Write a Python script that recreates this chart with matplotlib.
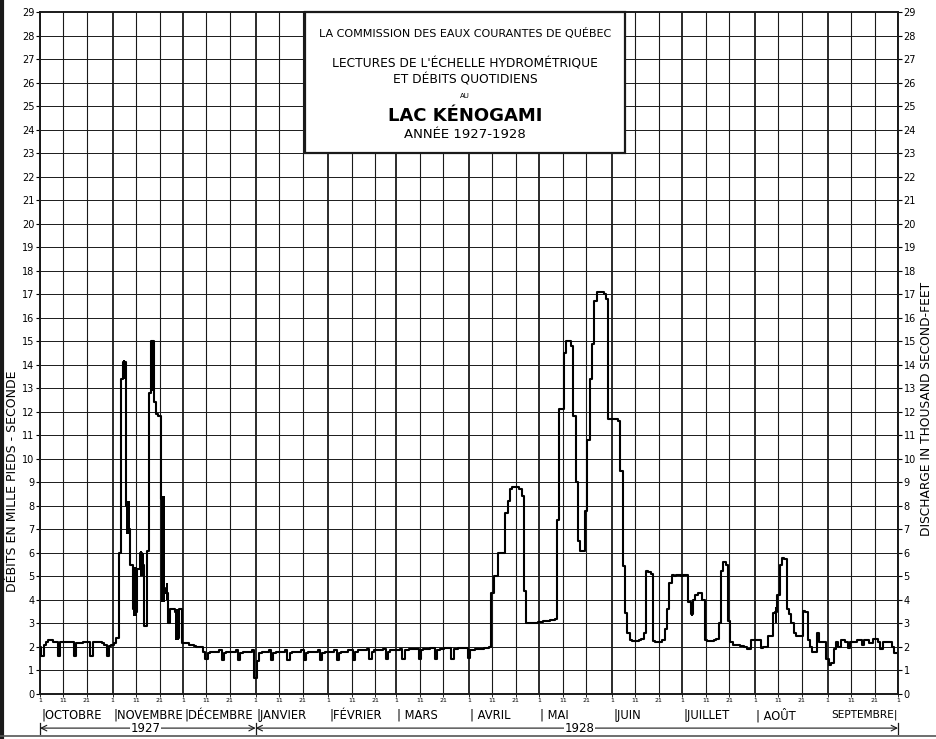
import numpy as np
import pandas as pd
import matplotlib
matplotlib.use('Agg')
import matplotlib.pyplot as plt
import matplotlib.transforms as mtransforms
from matplotlib.patches import Rectangle
from matplotlib.lines import Line2D

plt.rcParams['font.family'] = ['DejaVu Sans']

# daily discharge at Lac Kénogami, thousand second-feet, Oct 1927 - Sep 1928
oct_q = [2.0, 1.6, 2.1, 2.2, 2.3, 2.3, 2.2, 2.2, 1.6, 2.2, 2.2, 2.2, 2.2, 2.2, 2.2, 1.6,
         2.15, 2.15, 2.15, 2.2, 2.2, 2.2, 1.6, 2.2, 2.2, 2.2, 2.2, 2.15, 2.1, 1.6, 2.05]
nov_q = [2.1, 2.15, 2.4, 6.0, 13.4, 14.1, 8.0, 7.0, 5.5, 3.6, 3.5, 5.3, 6.0, 5.5, 2.9,
         6.1, 12.8, 15.0, 12.4, 11.9, 11.8, 8.3, 4.5, 4.3, 3.0, 3.6, 3.6, 3.5, 2.4, 3.6]
dec_q = [2.15, 2.15, 2.15, 2.1, 2.1, 2.05, 2.0, 2.0, 2.0, 1.8, 1.5, 1.75, 1.8, 1.8, 1.8, 1.8,
         1.85, 1.45, 1.75, 1.8, 1.8, 1.8, 1.8, 1.85, 1.45, 1.75, 1.8, 1.8, 1.8, 1.8, 1.85]
jan_q = [0.7, 1.4, 1.75, 1.8, 1.8, 1.8, 1.85, 1.45, 1.75, 1.8, 1.8, 1.8, 1.8, 1.85, 1.45, 1.75,
         1.8, 1.8, 1.8, 1.8, 1.85, 1.45, 1.75, 1.8, 1.8, 1.8, 1.8, 1.85, 1.45, 1.75, 1.8]
feb_q = [1.8, 1.8, 1.8, 1.85, 1.45, 1.75, 1.8, 1.8, 1.8, 1.85, 1.85, 1.45, 1.8, 1.85, 1.85,
         1.85, 1.85, 1.9, 1.5, 1.8, 1.85, 1.85, 1.85, 1.85, 1.9, 1.5, 1.8, 1.85, 1.85]
mar_q = [1.85, 1.85, 1.9, 1.5, 1.85, 1.85, 1.9, 1.9, 1.9, 1.9, 1.5, 1.85, 1.9, 1.9, 1.9, 1.95,
         1.95, 1.5, 1.85, 1.9, 1.9, 1.95, 1.95, 1.95, 1.5, 1.9, 1.9, 1.95, 1.95, 1.95, 1.95]
apr_q = [1.55, 1.85, 1.85, 1.9, 1.9, 1.9, 1.9, 1.95, 1.95, 2.0, 4.3, 5.0, 5.0, 6.0, 6.0,
         6.0, 7.7, 8.2, 8.7, 8.8, 8.8, 8.8, 8.7, 8.4, 4.4, 3.0, 3.0, 3.0, 3.0, 3.0]
may_q = [3.05, 3.05, 3.1, 3.1, 3.1, 3.15, 3.15, 3.2, 7.4, 12.1, 12.1, 14.5, 15.0, 15.0, 14.8,
         11.8, 9.0, 6.5, 6.1, 6.1, 7.8, 10.8, 13.4, 14.9, 16.7, 17.1, 17.1, 17.1, 17.0, 16.8, 11.7]
jun_q = [11.7, 11.7, 11.7, 11.6, 9.5, 5.45, 3.45, 2.6, 2.3, 2.25, 2.25, 2.25, 2.3, 2.35, 2.6,
         5.25, 5.2, 5.1, 2.25, 2.2, 2.2, 2.2, 2.3, 2.75, 3.6, 4.7, 5.05, 5.0, 5.05, 5.05]
jul_q = [5.0, 5.05, 5.05, 3.9, 3.4, 4.0, 4.2, 4.3, 4.3, 4.0, 2.3, 2.25, 2.25, 2.25, 2.3, 2.35,
         3.0, 5.25, 5.6, 5.5, 3.1, 2.2, 2.1, 2.1, 2.1, 2.05, 2.05, 2.0, 1.9, 1.9, 2.3]
aug_q = [2.3, 2.3, 2.3, 1.95, 2.0, 2.0, 2.45, 2.45, 3.45, 3.5, 4.2, 5.5, 5.8, 5.75, 3.6, 3.4,
         3.0, 2.6, 2.45, 2.45, 2.45, 3.55, 3.5, 2.3, 2.0, 1.8, 1.8, 2.6, 2.2, 2.2, 2.2]
sep_q = [1.5, 1.25, 1.3, 1.9, 2.2, 2.0, 2.3, 2.3, 2.2, 1.95, 2.2, 2.2, 2.2, 2.3, 2.3,
         2.1, 2.3, 2.3, 2.15, 2.15, 2.35, 2.35, 2.2, 1.9, 2.2, 2.2, 2.2, 2.2, 2.0, 1.75]

# days with rapid fluctuation (drawn as dark bars)
hatch_dates = ['1927-11-06', '1927-11-07', '1927-11-08', '1927-11-10', '1927-11-11',
               '1927-11-13', '1927-11-14', '1927-11-18', '1927-11-22', '1927-11-23',
               '1927-11-24', '1927-11-28', '1927-11-29', '1928-07-05', '1928-08-10']
hatch_lo = [13.4, 6.8, 6.8, 3.3, 3.3, 5.0, 5.0, 12.9, 3.9, 3.9, 4.0, 2.3, 2.3, 3.3, 3.0]
hatch_hi = [14.2, 8.2, 8.2, 5.4, 5.4, 6.1, 6.0, 15.0, 8.4, 8.4, 4.7, 3.6, 3.6, 3.9, 3.7]

months = ['OCTOBRE', 'NOVEMBRE', 'DÉCEMBRE', 'JANVIER', 'FÉVRIER', 'MARS',
          'AVRIL', 'MAI', 'JUIN', 'JUILLET', 'AOÛT', 'SEPTEMBRE']
day_marks = [1, 11, 21]

q = np.array(oct_q + nov_q + dec_q + jan_q + feb_q + mar_q +
             apr_q + may_q + jun_q + jul_q + aug_q + sep_q)
dates = pd.date_range('1927-10-01', '1928-09-30', freq='D')
start = dates[0]
days = np.arange(len(dates))
month_starts = [(d - start).days for d in pd.date_range('1927-10-01', '1928-10-01', freq='MS')]
grid_days = [(d - start).days for d in dates if d.day in day_marks] + [month_starts[-1]]
hatch_days = [(pd.Timestamp(d) - start).days for d in hatch_dates]
jan1 = (pd.Timestamp('1928-01-01') - start).days

W, H = 936, 739
fig = plt.figure(figsize=(W / 100, H / 100), dpi=100)
ax = fig.add_axes([40 / W, 45 / H, 858 / W, 682 / H])
ax.set_xlim(0, month_starts[-1])
ax.set_ylim(0, 29)

ink = '#1a1a1a'
for v in range(1, 29):
    ax.axhline(v, color=ink, lw=0.7, zorder=1)
for g in grid_days:
    ax.axvline(g, color=ink, lw=1.3 if g in month_starts else 0.8, zorder=1)

ax.step(days, q, where='mid', color='black', lw=1.5, zorder=3)
ax.bar(hatch_days, np.array(hatch_hi) - np.array(hatch_lo), bottom=hatch_lo,
       width=0.8, color='black', zorder=3)

for s in ax.spines.values():
    s.set_linewidth(1.4)
    s.set_color(ink)

ax.set_yticks(range(30))
ax.set_yticklabels([str(v) for v in range(30)], fontsize=7)
ax.tick_params(axis='y', which='both', left=True, right=True, labelleft=True,
               labelright=True, direction='out', length=3, width=0.8, pad=1)
ax.set_xticks(grid_days)
ax.set_xticklabels([str((start + pd.Timedelta(days=g)).day) for g in grid_days], fontsize=4.5)
ax.tick_params(axis='x', direction='out', length=2, width=0.6, pad=1)

trans = mtransforms.blended_transform_factory(ax.transData, ax.transAxes)
spaced = {'MARS', 'AVRIL', 'MAI', 'AOÛT'}
for m, name in zip(month_starts[:-2], months[:-1]):
    bar = '| ' if name in spaced else '|'
    ax.text(m + 0.5, -0.031, bar + name, transform=trans, ha='left', va='center',
            fontsize=8.3)
ax.text(month_starts[-1], -0.031, months[-1] + '|', transform=trans, ha='right',
        va='center', fontsize=7.6)

# year arrows
ya = -0.050
for x0, x1, lab, xl in [(0, jan1, '1927', 45), (jan1, month_starts[-1], '1928', 230)]:
    ax.annotate('', xy=(x0, ya), xytext=(x1, ya), xycoords=trans, textcoords=trans,
                arrowprops=dict(arrowstyle='<->', lw=0.8, color=ink, shrinkA=0, shrinkB=0))
    ax.text(xl, ya - 0.001, lab, transform=trans, ha='center', va='center', fontsize=8.5,
            bbox=dict(facecolor='white', edgecolor='none', pad=0.5))
for xb in [0, jan1, month_starts[-1]]:
    ax.add_line(Line2D([xb, xb], [-0.043, -0.058], transform=trans, color=ink, lw=0.9,
                       clip_on=False))

# title box
box = Rectangle((305 / W, 1 - 153 / H), 320 / W, 141 / H, transform=fig.transFigure,
                facecolor='white', edgecolor=ink, lw=1.6, zorder=5)
fig.patches.append(box)
cx = 465 / W
fig.text(cx, 1 - 33 / H, 'LA COMMISSION DES EAUX COURANTES DE QUÉBEC', ha='center',
         va='center', fontsize=8, zorder=6)
fig.text(cx, 1 - 64 / H, "LECTURES DE L'ÉCHELLE HYDROMÉTRIQUE", ha='center',
         va='center', fontsize=8.8, zorder=6)
fig.text(cx, 1 - 80 / H, 'ET DÉBITS QUOTIDIENS', ha='center', va='center',
         fontsize=8.8, zorder=6)
fig.text(cx, 1 - 96 / H, 'AU', ha='center', va='center', fontsize=5, zorder=6)
fig.text(cx, 1 - 116 / H, 'LAC KÉNOGAMI', ha='center', va='center', fontsize=13,
         fontweight='bold', zorder=6)
fig.text(cx, 1 - 135 / H, 'ANNÉE 1927-1928', ha='center', va='center', fontsize=9.5,
         zorder=6)

fig.text(13 / W, 1 - 481 / H, 'DÉBITS EN MILLE PIEDS - SECONDE', rotation=90,
         ha='center', va='center', fontsize=9)
fig.text(927 / W, 1 - 409 / H, 'DISCHARGE IN THOUSAND SECOND-FEET', rotation=90,
         ha='center', va='center', fontsize=8.8)

# sheet border
fig.add_artist(Line2D([2 / W, 2 / W], [0, 1], transform=fig.transFigure, color=ink, lw=3))
fig.add_artist(Line2D([0, 1], [3 / H, 3 / H], transform=fig.transFigure, color='#555555', lw=1.2))

fig.savefig('out.png', dpi=100)
